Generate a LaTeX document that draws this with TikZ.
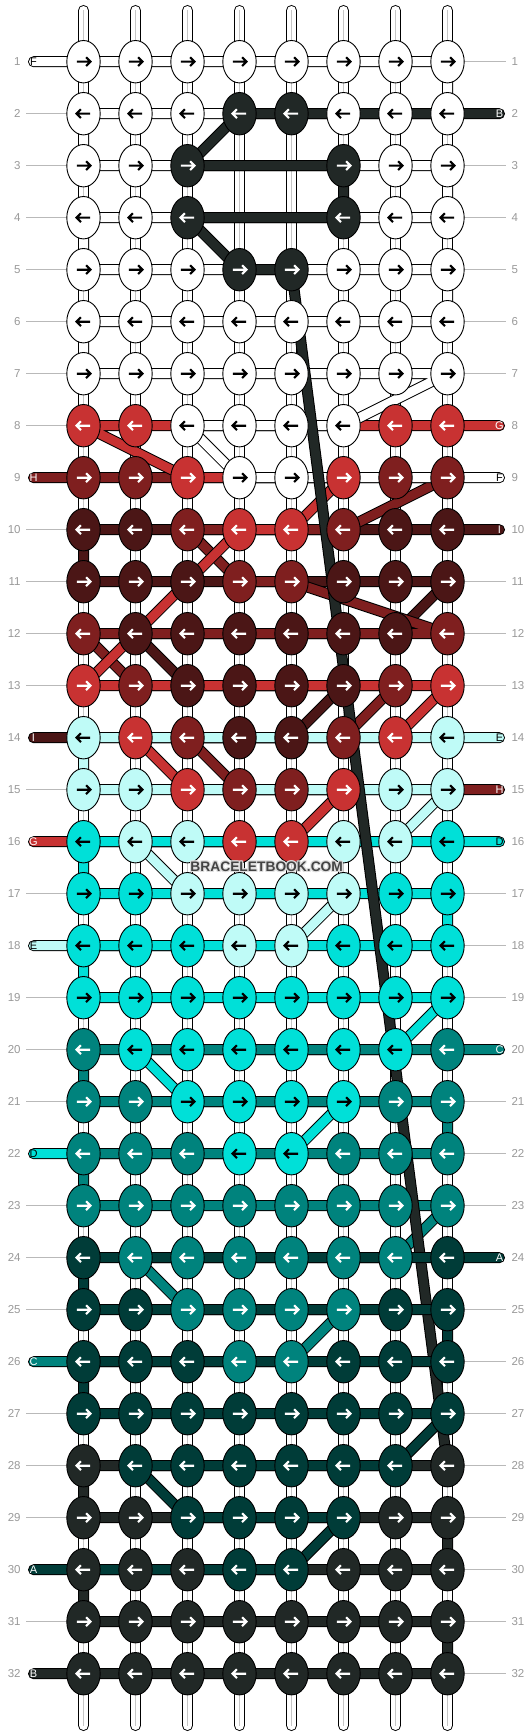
\documentclass[tikz,border=0pt]{standalone}
\usepackage{fontspec}
\setmainfont{Liberation Sans}
\usetikzlibrary{shapes.geometric}
\definecolor{cW}{HTML}{FFFFFF}
\definecolor{cK}{HTML}{212826}
\definecolor{cR}{HTML}{C83232}
\definecolor{cM}{HTML}{7F1F1F}
\definecolor{cN}{HTML}{4B1616}
\definecolor{cE}{HTML}{BFFBF7}
\definecolor{cD}{HTML}{00E0D8}
\definecolor{cC}{HTML}{00837D}
\definecolor{cA}{HTML}{003C38}
\definecolor{aW}{HTML}{000000}
\definecolor{aE}{HTML}{000000}
\definecolor{aD}{HTML}{000000}
\definecolor{aK}{HTML}{FFFFFF}
\definecolor{aR}{HTML}{FFFFFF}
\definecolor{aM}{HTML}{FFFFFF}
\definecolor{aN}{HTML}{FFFFFF}
\definecolor{aC}{HTML}{FFFFFF}
\definecolor{aA}{HTML}{FFFFFF}
\definecolor{wmark}{HTML}{444444}
\tikzset{
 knot/.style={ellipse, draw=black, line width=0.9pt, minimum width=33.4pt, minimum height=42.4pt, inner sep=0pt},
 arr/.style={line width=2.1pt, line cap=butt, line join=miter},
 thrO/.style={line width=11pt, draw=black, line cap=round, line join=round},
 thrI/.style={line width=9pt, line cap=round, line join=round},
 grayline/.style={draw=gray!55, line width=0.9pt},
 num/.style={text=gray!80, font=\fontsize{11.5}{13}\selectfont, inner sep=0pt},
 tag/.style={font=\fontsize{11}{12}\selectfont, inner sep=0pt},
}
\newcommand\thr[2]{\draw[thrO] #2; \draw[thrI,draw=#1] #2;}
\newcommand\knotrow[2]{%
  \foreach \kc [count=\c] in {#2} {%
    \if\kc X\else
      \node[knot, fill=c\kc] (n#1-\c) at (p#1-\c) {};
      \begin{scope}[shift={(p#1-\c)}]
      \ifodd#1
        \draw[arr, draw=a\kc] (-6.6,0) -- (7.0,0) (2.6,-4.4) -- (7.0,0) -- (2.6,4.4);
      \else
        \draw[arr, draw=a\kc] (6.6,0) -- (-7.0,0) (-2.6,-4.4) -- (-7.0,0) -- (-2.6,4.4);
      \fi
      \end{scope}
    \fi
  }}
\begin{document}
\begin{tikzpicture}[x=1pt,y=-1pt]
\useasboundingbox (0,0) rectangle (532,1736);
\fill[white] (0,0) rectangle (532,1736);
\foreach \r in {1,...,32}{
  \pgfmathsetmacro\yy{61.7+52*(\r-1)}
  \foreach \c in {1,...,8}{\coordinate (p\r-\c) at ({83.5+52*(\c-1)},\yy);}
  \coordinate (L\r) at (33.5,\yy);
  \coordinate (R\r) at (499.5,\yy);
  \coordinate (gl\r) at (26,\yy);
  \coordinate (gr\r) at (506,\yy);
  \node[num,anchor=east] (numl\r) at (20.8,\yy) {\r};
  \node[num,anchor=west] (numr\r) at (511.3,\yy) {\r};
}
% gray guide lines
\foreach \r in {2,3,4,5,6,7,8,10,11,12,13,15,17,19,20,21,23,24,25,27,28,29,31}
  \draw[grayline] (gl\r) -- (p\r-1);
\foreach \r in {1,3,4,5,6,7,11,12,13,17,18,19,21,22,23,25,26,27,28,29,30,31,32}
  \draw[grayline] (p\r-8) -- (gr\r);
% vertical base strands
\foreach \c in {1,...,8}{
  \coordinate (st\c) at ({83.5+52*(\c-1)},10.5);
  \coordinate (sb\c) at ({83.5+52*(\c-1)},1725.5);
  \draw[line width=11pt, black, line cap=round] (st\c) -- (sb\c);
  \draw[line width=9pt, white, line cap=round] (st\c) -- (sb\c);
  \draw[line width=1pt, gray!45] (st\c) -- (sb\c);
}
% knotting threads (later = on top)
\thr{cN}{(R10) -- (p10-1) -- (p11-1) -- (p11-8) -- (p12-7) -- (p12-2) -- (p13-3) -- (p13-6) -- (p14-5) -- (L14)}
\thr{cM}{(L9) -- (p9-8) -- (p10-6) -- (p10-3) -- (p11-4) -- (p11-5) -- (p12-8) -- (p12-1) -- (p13-2) -- (p13-7) -- (p14-6) -- (p14-3) -- (p15-4) -- (R15)}
\thr{cR}{(R8) -- (p8-1) -- (p9-3) -- (p9-6) -- (p10-5) -- (p10-4) -- (p13-1) -- (p13-8) -- (p14-7) -- (p14-2) -- (p15-3) -- (p15-6) -- (p16-5) -- (L16)}
\thr{cW}{(L1) -- (p1-8) -- (p2-8) -- (p2-1) -- (p3-1) -- (p3-8) -- (p4-8) -- (p4-1) -- (p5-1) -- (p5-8) -- (p6-8) -- (p6-1) -- (p7-1) -- (p7-8) -- (p8-6) -- (p8-3) -- (p9-4) -- (R9)}
\thr{cE}{(R14) -- (p14-1) -- (p15-1) -- (p15-8) -- (p16-7) -- (p16-2) -- (p17-3) -- (p17-6) -- (p18-5) -- (L18)}
\thr{cD}{(R16) -- (p16-1) -- (p17-1) -- (p17-8) -- (p18-8) -- (p18-1) -- (p19-1) -- (p19-8) -- (p20-7) -- (p20-2) -- (p21-3) -- (p21-6) -- (p22-5) -- (L22)}
\thr{cC}{(R20) -- (p20-1) -- (p21-1) -- (p21-8) -- (p22-8) -- (p22-1) -- (p23-1) -- (p23-8) -- (p24-7) -- (p24-2) -- (p25-3) -- (p25-6) -- (p26-5) -- (L26)}
\thr{cK}{(R2) -- (p2-4) -- (p3-3) -- (p3-6) -- (p4-6) -- (p4-3) -- (p5-4) -- (p5-5) -- (p28-8) -- (p28-1) -- (p29-1) -- (p29-8) -- (p30-8) -- (p30-1) -- (p31-1) -- (p31-8) -- (p32-8) -- (L32)}
\thr{cA}{(R24) -- (p24-1) -- (p25-1) -- (p25-8) -- (p26-8) -- (p26-1) -- (p27-1) -- (p27-8) -- (p28-7) -- (p28-2) -- (p29-3) -- (p29-6) -- (p30-5) -- (L30)}
% knots
\knotrow{1}{W,W,W,W,W,W,W,W}
\knotrow{2}{W,W,W,K,K,W,W,W}
\knotrow{3}{W,W,K,X,X,K,W,W}
\knotrow{4}{W,W,K,X,X,K,W,W}
\knotrow{5}{W,W,W,K,K,W,W,W}
\knotrow{6}{W,W,W,W,W,W,W,W}
\knotrow{7}{W,W,W,W,W,W,W,W}
\knotrow{8}{R,R,W,W,W,W,R,R}
\knotrow{9}{M,M,R,W,W,R,M,M}
\knotrow{10}{N,N,M,R,R,M,N,N}
\knotrow{11}{N,N,N,M,M,N,N,N}
\knotrow{12}{M,N,N,N,N,N,N,M}
\knotrow{13}{R,M,N,N,N,N,M,R}
\knotrow{14}{E,R,M,N,N,M,R,E}
\knotrow{15}{E,E,R,M,M,R,E,E}
\knotrow{16}{D,E,E,R,R,E,E,D}
\knotrow{17}{D,D,E,E,E,E,D,D}
\knotrow{18}{D,D,D,E,E,D,D,D}
\knotrow{19}{D,D,D,D,D,D,D,D}
\knotrow{20}{C,D,D,D,D,D,D,C}
\knotrow{21}{C,C,D,D,D,D,C,C}
\knotrow{22}{C,C,C,D,D,C,C,C}
\knotrow{23}{C,C,C,C,C,C,C,C}
\knotrow{24}{A,C,C,C,C,C,C,A}
\knotrow{25}{A,A,C,C,C,C,A,A}
\knotrow{26}{A,A,A,C,C,A,A,A}
\knotrow{27}{A,A,A,A,A,A,A,A}
\knotrow{28}{K,A,A,A,A,A,A,K}
\knotrow{29}{K,K,A,A,A,A,K,K}
\knotrow{30}{K,K,K,A,A,K,K,K}
\knotrow{31}{K,K,K,K,K,K,K,K}
\knotrow{32}{K,K,K,K,K,K,K,K}
% thread tags
\node[tag,text=black] (tF1) at (L1) {F};
\node[tag,text=white] (tB2) at (R2) {B};
\node[tag,text=white] (tG8) at (R8) {G};
\node[tag,text=white] (tH9) at (L9) {H};
\node[tag,text=black] (tF9) at (R9) {F};
\node[tag,text=white] (tI10) at (R10) {I};
\node[tag,text=white] (tI14) at (L14) {I};
\node[tag,text=black] (tE14) at (R14) {E};
\node[tag,text=white] (tH15) at (R15) {H};
\node[tag,text=white] (tG16) at (L16) {G};
\node[tag,text=black] (tD16) at (R16) {D};
\node[tag,text=black] (tE18) at (L18) {E};
\node[tag,text=white] (tC20) at (R20) {C};
\node[tag,text=black] (tD22) at (L22) {D};
\node[tag,text=white] (tA24) at (R24) {A};
\node[tag,text=white] (tC26) at (L26) {C};
\node[tag,text=white] (tA30) at (L30) {A};
\node[tag,text=white] (tB32) at (L32) {B};
% watermark
\foreach \dx/\dy [count=\i] in {-1/0,1/0,0/-1,0/1,-1/-1,1/1,-1/1,1/-1}
  \node[font=\bfseries\fontsize{13.8}{15}\selectfont, text=white!75!gray, inner sep=0pt] (wmh\i) at (266.7+\dx,866.7+\dy) {BRACELETBOOK.COM};
\node[font=\bfseries\fontsize{13.8}{15}\selectfont, text=wmark, inner sep=0pt] (wm) at (266.7,866.7) {BRACELETBOOK.COM};
\end{tikzpicture}
\end{document}
